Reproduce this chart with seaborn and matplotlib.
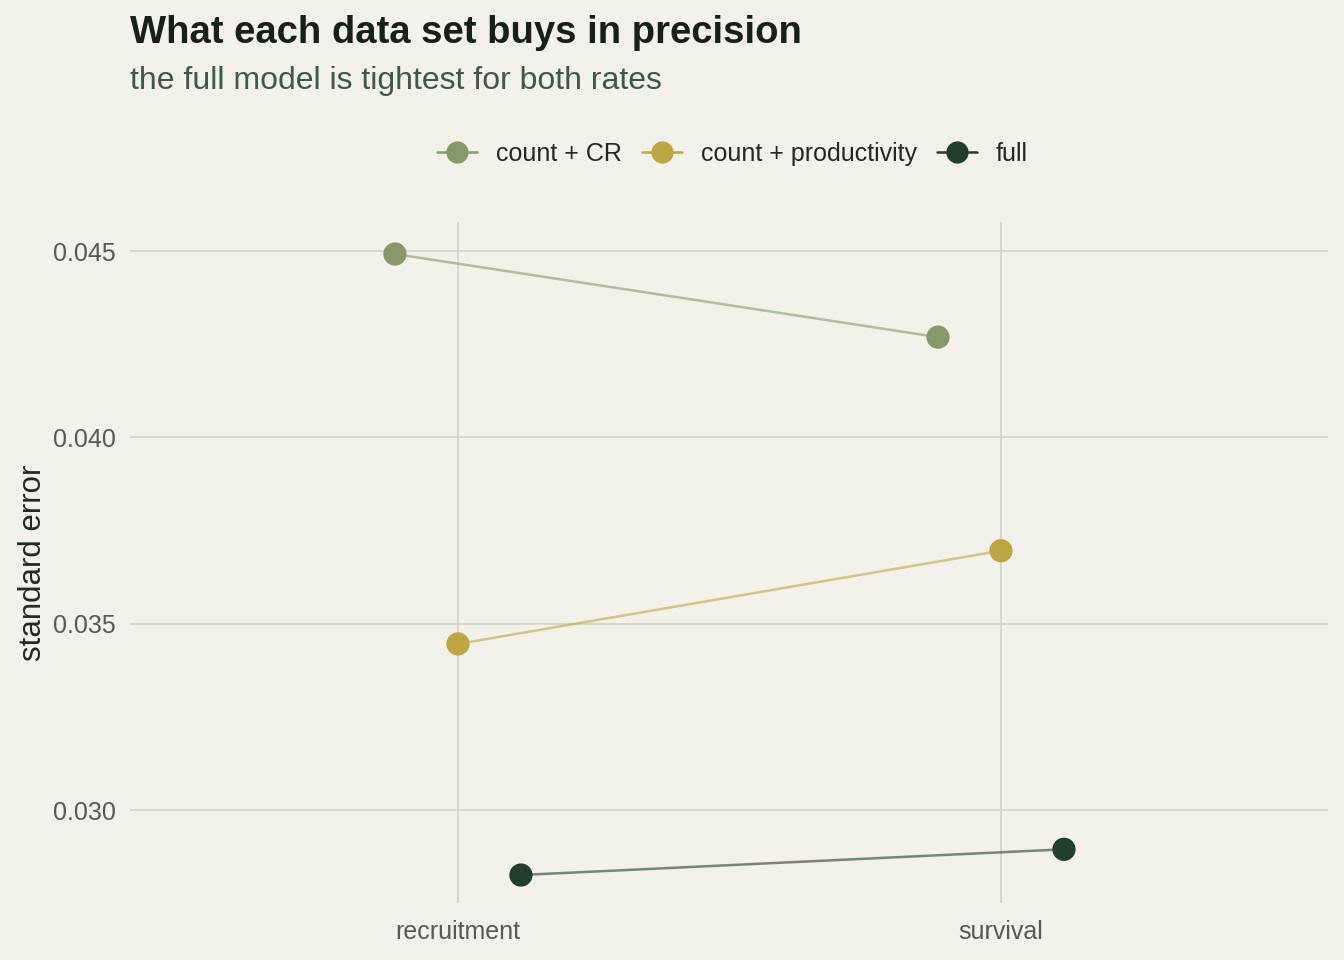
import matplotlib
matplotlib.use("Agg")
import matplotlib.pyplot as plt
import seaborn as sns
import pandas as pd
from matplotlib.lines import Line2D

rates = ["recruitment", "survival"]
models = ["count + CR", "count + productivity", "full"]
se_count_cr = [0.04492, 0.04269]
se_count_prod = [0.03446, 0.03696]
se_full = [0.02826, 0.02895]

palette = {"count + CR": "#86996b", "count + productivity": "#c0a544", "full": "#1f3f2b"}
bg = "#f2f1ea"

rows = []
for m, vals in zip(models, [se_count_cr, se_count_prod, se_full]):
    for r, v in zip(rates, vals):
        rows.append({"rate": r, "model": m, "se": v})
df = pd.DataFrame(rows)
dodge = {"count + CR": -0.116, "count + productivity": 0.0, "full": 0.116}
df["x"] = df["rate"].map({r: i for i, r in enumerate(rates)}) + df["model"].map(dodge)

sns.set_theme(style="whitegrid")
plt.rcParams["font.family"] = ["Liberation Sans", "DejaVu Sans"]

fig = plt.figure(figsize=(13.44, 9.6), dpi=100, facecolor=bg)
ax = fig.add_axes([0.0967, 0.0594, 0.8913, 0.7094])
ax.set_facecolor(bg)

sns.lineplot(data=df, x="x", y="se", hue="model", hue_order=models, palette=palette,
             alpha=0.6, linewidth=1.8, legend=False, ax=ax, sort=True)
sns.scatterplot(data=df, x="x", y="se", hue="model", hue_order=models, palette=palette,
                s=280, edgecolor="none", legend=False, ax=ax, zorder=3)

ax.set_xlim(-0.604, 1.602)
ax.set_ylim(0.02751, 0.04578)
ax.set_xticks(range(len(rates)))
ax.set_xticklabels(rates)
ax.set_yticks([0.030, 0.035, 0.040, 0.045])
ax.set_yticklabels(["0.030", "0.035", "0.040", "0.045"])
ax.grid(True, color="#d2d2c4", linewidth=1.2)
for s in ax.spines.values():
    s.set_visible(False)
ax.tick_params(axis="both", length=0, labelsize=18, labelcolor="#555a52")
ax.tick_params(axis="x", pad=12)
ax.tick_params(axis="y", pad=10)
ax.set_xlabel("")
ax.set_ylabel("standard error", fontsize=22.5, color="#1f2a22", labelpad=4)

handles = [Line2D([0], [0], color=palette[m], marker="o", markersize=16,
                  markeredgewidth=0, linewidth=1.8) for m in models]
leg = fig.legend(handles, models, loc="center", bbox_to_anchor=(0.545, 0.84), ncol=3,
                 frameon=False, fontsize=18, handlelength=1.6, columnspacing=0.8,
                 handletextpad=0.75)
for t in leg.get_texts():
    t.set_color("#1f2a22")
for lh, m in zip(leg.legend_handles, models):
    lh.set_color(palette[m])

fig.text(0.0967, 0.966, "What each data set buys in precision", fontsize=27.5,
         fontweight="bold", color="#142018", ha="left", va="center")
fig.text(0.0967, 0.916, "the full model is tightest for both rates", fontsize=23,
         color="#3d5a44", ha="left", va="center")

fig.savefig("out.png", dpi=100, facecolor=bg)
